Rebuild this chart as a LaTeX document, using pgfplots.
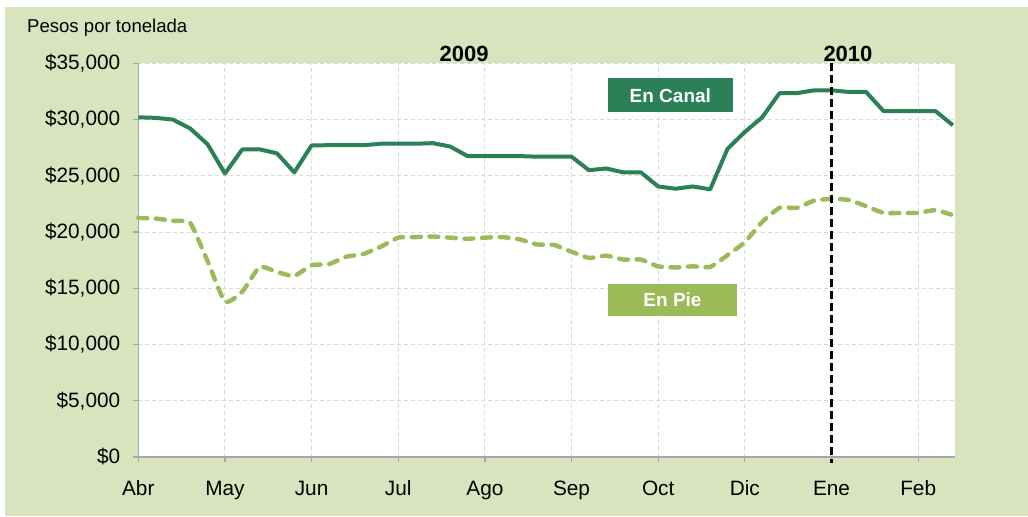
\documentclass[border=0pt]{standalone}
\usepackage{pgfplots}
\pgfplotsset{compat=1.18}
\usepackage{fontspec}
\setmainfont{Liberation Sans}
\definecolor{canal}{HTML}{2C8056}
\definecolor{pie}{HTML}{9BBB59}
\definecolor{fondo}{HTML}{D7E4BD}
\definecolor{rejilla}{HTML}{D9D9D9}
\definecolor{eje}{HTML}{A6A6A6}

\begin{document}
\begin{tikzpicture}
\useasboundingbox (-69.15pt,-29.5pt) rectangle (444.85pt,228.5pt);
\fill[fondo] (-66.65pt,-29.5pt) rectangle (444.85pt,225pt);
\begin{axis}[
  at={(0,0)}, anchor=south west,
  scale only axis, width=408.35pt, height=196.85pt,
  xmin=0, xmax=9.425, ymin=0, ymax=35000,
  scaled ticks=false,
  axis background/.style={fill=white},
  axis x line*=bottom, axis y line*=left,
  axis line style={draw=eje, line width=0.75pt, -},
  tick align=outside, major tick length=2.5pt,
  tick style={draw=eje, line width=0.6pt},
  xtick={0,...,9},
  xticklabels={Abr,May,Jun,Jul,Ago,Sep,Oct,Dic,Ene,Feb},
  ytick={0,5000,...,35000},
  yticklabels={{\$0},{\$5,000},{\$10,000},{\$15,000},{\$20,000},{\$25,000},{\$30,000},{\$35,000}},
  ticklabel style={font=\fontsize{10.4}{12}\selectfont},
  xticklabel style={text height=7.4pt, text depth=2.2pt, yshift=-6pt},
  yticklabel style={xshift=-3pt},
  grid=major,
  major grid style={draw=rejilla, line width=0.5pt, dash pattern=on 2pt off 1.5pt},
  clip=false,
]
% En Canal
\addplot[canal, line width=2pt, line join=round] coordinates {
(0,30200) (0.2,30150) (0.4,30000) (0.6,29200) (0.8,27800) (1.0,25200)
(1.2,27350) (1.4,27350) (1.6,27000) (1.8,25300) (2.0,27700) (2.2,27720)
(2.4,27720) (2.6,27720) (2.8,27850) (3.0,27850) (3.2,27850) (3.4,27900)
(3.6,27600) (3.8,26750) (4.0,26750) (4.2,26750) (4.4,26750) (4.6,26700)
(4.8,26700) (5.0,26700) (5.2,25500) (5.4,25650) (5.6,25300) (5.8,25300)
(6.0,24050) (6.2,23850) (6.4,24050) (6.6,23800) (6.8,27400) (7.0,28900)
(7.2,30200) (7.4,32350) (7.6,32350) (7.8,32600) (8.0,32600) (8.2,32450)
(8.4,32450) (8.6,30750) (8.8,30750) (9.0,30750) (9.2,30750) (9.4,29500)
};
% En Pie
\addplot[pie, line width=2.2pt, line cap=round, dash pattern=on 4.5pt off 4.3pt, smooth, tension=0.3] coordinates {
(0,21250) (0.2,21200) (0.4,21000) (0.6,20800) (0.8,17400) (1.0,13800)
(1.2,14700) (1.4,16900) (1.6,16450) (1.8,16100) (2.0,17050) (2.2,17150)
(2.4,17800) (2.6,18050) (2.8,18700) (3.0,19500) (3.2,19550) (3.4,19600)
(3.6,19500) (3.8,19400) (4.0,19500) (4.2,19550) (4.4,19350) (4.6,18900)
(4.8,18850) (5.0,18250) (5.2,17700) (5.4,17900) (5.6,17550) (5.8,17550)
(6.0,16950) (6.2,16850) (6.4,16950) (6.6,16900) (6.8,17950) (7.0,19100)
(7.2,20900) (7.4,22150) (7.6,22150) (7.8,22800) (8.0,22950) (8.2,22850)
(8.4,22300) (8.6,21700) (8.8,21700) (9.0,21700) (9.2,21950) (9.4,21500)
};
% cambio de año
\draw[black, line width=1.2pt, dash pattern=on 4pt off 2pt] (axis cs:8,35000) -- (axis cs:8,-500);
\node[font=\bfseries\fontsize{11}{13}\selectfont] at (axis cs:3.76,35800) {2009};
\node[font=\bfseries\fontsize{11}{13}\selectfont] at (axis cs:8.19,35800) {2010};
\node[fill=canal, text=white, font=\bfseries\fontsize{9.5}{11}\selectfont, minimum width=62.5pt, minimum height=17pt, inner sep=0pt] at (axis cs:6.14,32150) {En Canal};
\node[fill=pie, text=white, font=\bfseries\fontsize{9.5}{11}\selectfont, minimum width=64.5pt, minimum height=16pt, inner sep=0pt] at (axis cs:6.165,13940) {En Pie};
\end{axis}
\node[anchor=base west, inner sep=0pt, font=\fontsize{9.3}{11}\selectfont] at (-55.8pt,212.35pt) {Pesos por tonelada};
\end{tikzpicture}
\end{document}
